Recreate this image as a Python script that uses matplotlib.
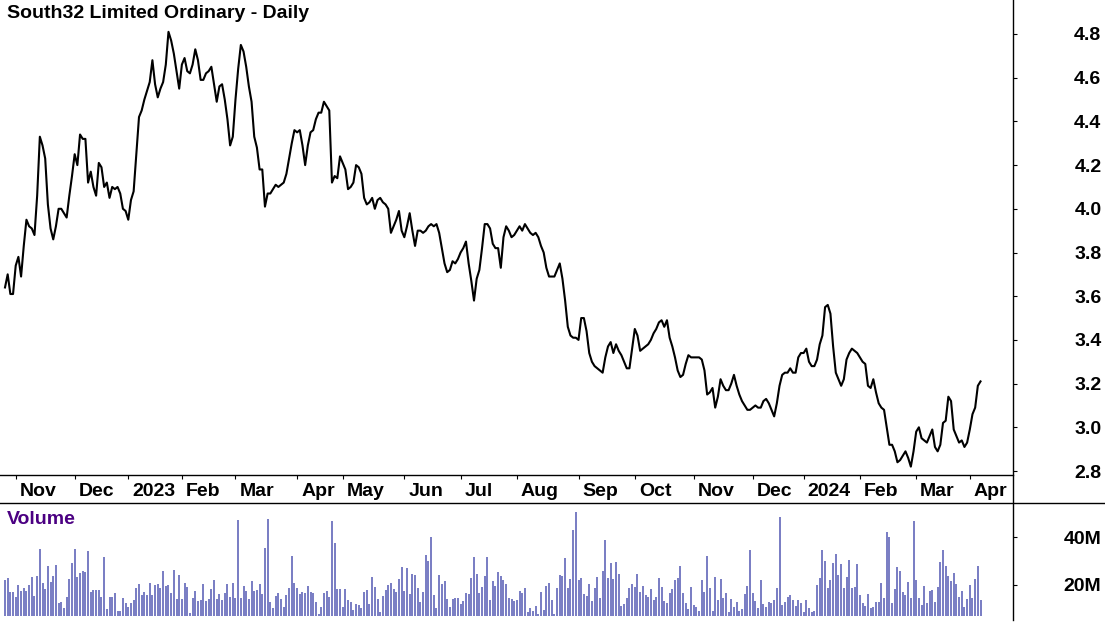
import matplotlib
matplotlib.use("Agg")
import matplotlib.pyplot as plt
import matplotlib.transforms as mtransforms
from matplotlib.lines import Line2D
import numpy as np
import pandas as pd

plt.rcParams["font.family"] = ["Liberation Sans", "DejaVu Sans"]

TITLE = "South32 Limited Ordinary - Daily"
START = "2022-10-26"
END = "2024-04-08"
ASX_HOLIDAYS = [
    "2022-12-26", "2022-12-27", "2023-01-02", "2023-01-26", "2023-04-07",
    "2023-04-10", "2023-04-25", "2023-06-12", "2023-12-25", "2023-12-26",
    "2024-01-01", "2024-01-26", "2024-03-29", "2024-04-01",
]

PRICE_TICKS = [2.8, 3.0, 3.2, 3.4, 3.6, 3.8, 4.0, 4.2, 4.4, 4.6, 4.8]
VOLUME_TICKS = [20, 40]
VOLUME_TICK_LABELS = ["20M", "40M"]

# daily close, A$
CLOSE = [
    3.64, 3.70, 3.61, 3.61, 3.74, 3.78, 3.69, 3.83, 3.95, 3.92,
    3.91, 3.88, 4.06, 4.33, 4.29, 4.23, 4.02, 3.91, 3.86, 3.92,
    4.00, 4.00, 3.98, 3.96, 4.06, 4.15, 4.25, 4.20, 4.34, 4.32,
    4.32, 4.12, 4.17, 4.10, 4.06, 4.21, 4.19, 4.10, 4.12, 4.05,
    4.10, 4.09, 4.10, 4.07, 4.00, 3.99, 3.95, 4.04, 4.08, 4.25,
    4.42, 4.45, 4.50, 4.54, 4.58, 4.68, 4.57, 4.51, 4.55, 4.58,
    4.66, 4.81, 4.77, 4.71, 4.63, 4.55, 4.66, 4.69, 4.63, 4.62,
    4.66, 4.73, 4.68, 4.59, 4.59, 4.62, 4.63, 4.65, 4.57, 4.49,
    4.56, 4.57, 4.50, 4.41, 4.29, 4.33, 4.50, 4.64, 4.75, 4.72,
    4.65, 4.56, 4.49, 4.33, 4.28, 4.18, 4.18, 4.01, 4.07, 4.07,
    4.09, 4.11, 4.10, 4.11, 4.12, 4.16, 4.23, 4.30, 4.36, 4.35,
    4.36, 4.29, 4.20, 4.29, 4.35, 4.36, 4.41, 4.44, 4.44, 4.49,
    4.47, 4.45, 4.12, 4.15, 4.14, 4.24, 4.21, 4.18, 4.09, 4.10,
    4.12, 4.20, 4.19, 4.16, 4.05, 4.02, 4.03, 4.05, 4.00, 4.04,
    4.05, 4.03, 4.02, 4.00, 3.89, 3.92, 3.95, 3.99, 3.90, 3.87,
    3.92, 3.98, 3.90, 3.83, 3.90, 3.90, 3.89, 3.90, 3.92, 3.93,
    3.92, 3.93, 3.89, 3.82, 3.75, 3.71, 3.72, 3.76, 3.75, 3.77,
    3.80, 3.82, 3.85, 3.75, 3.67, 3.58, 3.68, 3.72, 3.82, 3.93,
    3.93, 3.91, 3.84, 3.82, 3.82, 3.73, 3.87, 3.92, 3.90, 3.87,
    3.88, 3.90, 3.92, 3.90, 3.93, 3.91, 3.89, 3.88, 3.89, 3.87,
    3.83, 3.80, 3.73, 3.69, 3.69, 3.69, 3.72, 3.75, 3.68, 3.58,
    3.46, 3.42, 3.41, 3.41, 3.40, 3.50, 3.50, 3.44, 3.34, 3.30,
    3.28, 3.27, 3.26, 3.25, 3.32, 3.37, 3.39, 3.34, 3.38, 3.35,
    3.33, 3.30, 3.27, 3.27, 3.36, 3.45, 3.42, 3.35, 3.36, 3.37,
    3.38, 3.40, 3.43, 3.45, 3.48, 3.49, 3.46, 3.49, 3.41, 3.37,
    3.32, 3.26, 3.23, 3.24, 3.29, 3.33, 3.32, 3.32, 3.32, 3.32,
    3.31, 3.26, 3.15, 3.16, 3.18, 3.09, 3.14, 3.22, 3.19, 3.17,
    3.17, 3.20, 3.24, 3.19, 3.15, 3.12, 3.10, 3.08, 3.08, 3.09,
    3.10, 3.09, 3.09, 3.12, 3.13, 3.11, 3.08, 3.05, 3.11, 3.19,
    3.24, 3.25, 3.25, 3.27, 3.25, 3.25, 3.32, 3.34, 3.34, 3.36,
    3.30, 3.28, 3.28, 3.31, 3.38, 3.42, 3.55, 3.56, 3.52, 3.37,
    3.25, 3.22, 3.19, 3.22, 3.31, 3.34, 3.36, 3.35, 3.34, 3.32,
    3.30, 3.29, 3.19, 3.18, 3.22, 3.16, 3.11, 3.09, 3.08, 3.00,
    2.92, 2.92, 2.89, 2.84, 2.85, 2.87, 2.89, 2.86, 2.82, 2.89,
    2.98, 3.00, 2.95, 2.94, 2.93, 2.96, 2.99, 2.91, 2.89, 2.92,
    3.02, 3.03, 3.14, 3.12, 2.99, 2.96, 2.93, 2.94, 2.91, 2.93,
    2.99, 3.06, 3.09, 3.19, 3.21,
]

# daily volume, millions of shares
VOLUME_M = [
    22.1, 22.8, 17.2, 17.2, 15.1, 20.0, 17.6, 18.9, 17.6, 20.0,
    23.5, 15.6, 23.8, 35.0, 21.0, 18.3, 27.9, 21.4, 23.8, 28.3,
    12.6, 13.1, 10.6, 15.1, 22.5, 29.3, 35.0, 23.5, 25.1, 25.8,
    25.6, 34.3, 17.2, 17.9, 17.9, 17.9, 15.1, 31.8, 10.0, 15.1,
    15.1, 16.8, 9.3, 9.2, 14.7, 12.6, 10.7, 12.6, 13.8, 18.9,
    20.4, 15.8, 17.2, 15.8, 21.0, 15.8, 20.0, 20.4, 18.6, 25.8,
    19.6, 20.0, 16.8, 26.3, 14.0, 24.2, 14.2, 21.0, 19.0, 8.2,
    14.4, 17.6, 13.5, 13.8, 20.4, 13.5, 14.0, 18.3, 22.1, 14.2,
    16.3, 13.8, 16.5, 20.4, 15.1, 21.0, 14.7, 47.1, 14.7, 19.6,
    17.5, 14.0, 21.7, 17.6, 17.9, 20.3, 16.3, 35.6, 47.5, 13.1,
    10.3, 15.4, 16.5, 14.3, 10.7, 15.8, 18.9, 32.1, 21.0, 18.6,
    16.1, 17.2, 16.5, 19.6, 17.2, 16.8, 13.1, 7.9, 11.0, 16.5,
    17.5, 15.1, 46.7, 37.6, 18.3, 18.2, 11.0, 18.2, 13.8, 12.8,
    9.6, 11.9, 11.8, 10.6, 17.1, 17.9,
    12.1, 23.3, 19.0, 14.2, 8.8, 15.3, 17.9, 20.0, 20.8, 18.3,
    17.1, 22.5, 27.5, 17.5, 27.1, 16.3, 24.6, 24.2, 18.8, 12.9,
    17.1, 32.5, 30.0, 40.0, 15.8, 10.4, 24.2, 20.4, 21.7, 14.2,
    10.8, 14.2, 14.6, 14.6, 12.1, 13.3, 16.7, 16.3, 22.9, 31.7,
    24.6, 16.7, 19.2, 23.8, 31.7, 13.8, 21.7, 19.6, 25.4, 23.8,
    22.1, 20.4, 14.6, 14.2, 13.3, 13.8, 17.5, 16.7, 18.8, 8.8,
    10.4, 9.2, 11.3, 7.9, 17.1, 9.6, 19.6, 20.8, 13.8, 7.9,
    18.8, 24.2, 23.8, 31.3, 18.8, 22.5, 42.9, 50.4, 22.1, 22.9,
    16.3, 15.4, 20.4, 13.3, 18.8, 23.3, 14.6, 25.8, 38.8, 22.9,
    29.3, 22.5, 29.6, 24.6, 11.3, 12.1, 14.6, 18.8, 20.4, 19.2,
    24.6, 17.1, 19.6, 15.8, 15.0, 18.3, 13.8, 15.0, 22.9, 19.2,
    13.3, 12.5, 16.7, 18.3, 22.1, 22.9, 27.9, 16.7, 12.5, 10.0,
    19.2, 11.7, 10.8, 9.2, 22.1, 17.1, 32.1,
    18.8, 9.2, 23.3, 13.8, 22.5, 14.6, 16.7, 8.8, 14.2, 10.8,
    12.9, 9.0, 10.0, 16.3, 19.6, 34.6, 16.7, 13.3, 10.4, 22.1,
    12.1, 10.8, 12.9, 12.5, 13.8, 18.8, 48.3, 11.7, 12.9, 15.0,
    15.8, 13.8, 11.3, 13.8, 12.5, 8.8, 13.8, 10.4, 8.6, 9.0,
    20.0, 22.9, 34.6, 30.0, 18.8, 22.1, 29.2, 32.9, 24.2, 28.8,
    18.8, 23.3, 30.4, 18.8, 19.2, 28.8, 15.8, 12.5, 11.3, 16.3,
    10.4, 10.8, 12.9, 12.9, 20.8, 14.6, 42.1, 40.0, 12.5, 18.3,
    27.5, 25.8, 17.1, 15.8, 21.3, 14.6, 46.7, 22.1, 14.6, 11.7,
    19.6, 12.5, 17.5, 17.9, 12.9, 19.2, 29.6, 34.6, 27.9, 23.8,
    21.7, 25.0, 20.4, 15.0, 17.5, 10.8, 14.2, 20.0, 14.6, 22.5,
    27.9, 13.8,
]

W, H, DPI = 1105, 622, 100
PLOT_RIGHT = 1012.5          # px, right axis line
PRICE_BOTTOM = 475           # px
VOL_TOP, VOL_BOTTOM = 503, 616
FONT = dict(fontsize=14, fontweight="bold")


def trading_days():
    days = pd.bdate_range(START, END)
    days = days[~days.isin(pd.to_datetime(ASX_HOLIDAYS))]
    return days[: len(CLOSE)]


def month_ticks(days):
    pos, labels = [], []
    for i in range(1, len(days)):
        if days[i].month != days[i - 1].month:
            pos.append(i)
            labels.append(str(days[i].year) if days[i].month == 1 else days[i].strftime("%b"))
    return pos, labels


def style_right_axis(ax, ticks, labels):
    ax.yaxis.tick_right()
    ax.set_yticks(ticks)
    ax.set_yticklabels(labels)
    ax.tick_params(axis="y", direction="out", length=3, width=0.8, pad=61,
                   labelsize=FONT["fontsize"], colors="black")
    for t in ax.yaxis.get_major_ticks():
        t.label2.set_horizontalalignment("right")
        t.label2.set_fontweight("bold")


days = trading_days()
x = np.arange(len(days))
xlim = (-5 / 2.68, (PLOT_RIGHT - 5) / 2.68)

fig = plt.figure(figsize=(W / DPI, H / DPI), dpi=DPI)
fig.patch.set_facecolor("white")

ax = fig.add_axes([0, 1 - PRICE_BOTTOM / H, PLOT_RIGHT / W, PRICE_BOTTOM / H])
ax.plot(x, CLOSE, color="black", linewidth=1.5)
ax.set_xlim(*xlim)
ax.set_ylim(2.7817, 4.9556)
for side in ("top", "left", "right"):
    ax.spines[side].set_visible(False)
ax.spines["bottom"].set_linewidth(1.0)

pos, labels = month_ticks(days)
ax.set_xticks(pos)
ax.set_xticklabels([])
ax.tick_params(axis="x", direction="out", length=3, width=0.8)
label_trans = mtransforms.offset_copy(ax.get_xaxis_transform(), fig=fig, x=4, y=-16, units="dots")
for p, lab in zip(pos, labels):
    ax.text(p, 0, lab, transform=label_trans, ha="left", va="center", clip_on=False, **FONT)

style_right_axis(ax, PRICE_TICKS, [f"{v:.1f}" for v in PRICE_TICKS])

vax = fig.add_axes([0, 1 - VOL_BOTTOM / H, PLOT_RIGHT / W, (VOL_BOTTOM - VOL_TOP) / H])
vax.bar(x, VOLUME_M, width=0.75, color="#7b7fc4", linewidth=0)
vax.set_xlim(*xlim)
vax.set_ylim(7.08, 54.17)
for side in vax.spines:
    vax.spines[side].set_visible(False)
vax.set_xticks([])
style_right_axis(vax, VOLUME_TICKS, VOLUME_TICK_LABELS)

# frame lines shared by both panels
fig.add_artist(Line2D([PLOT_RIGHT / W] * 2, [1, 1 - 620 / H], color="black", linewidth=1.0))
fig.add_artist(Line2D([0, 1], [1 - VOL_TOP / H] * 2, color="black", linewidth=1.0))

fig.text(7 / W, 1 - 5 / H, TITLE, ha="left", va="top", color="black", **FONT)
fig.text(7 / W, 1 - 511 / H, "Volume", ha="left", va="top", color="#4b0082", **FONT)

fig.savefig("out.png", dpi=DPI)
plt.close(fig)
